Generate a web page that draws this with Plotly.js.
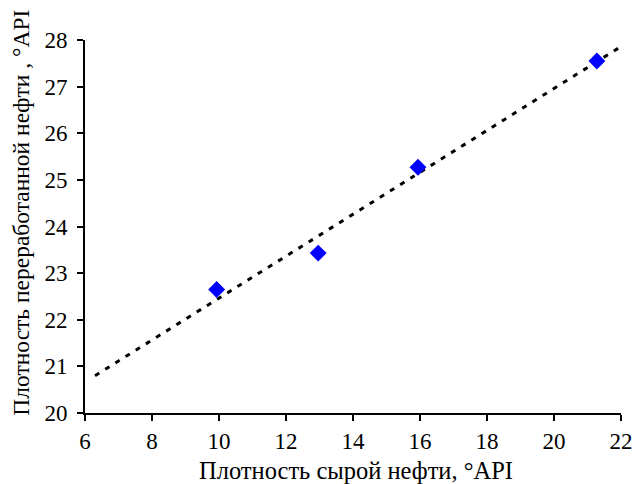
<!DOCTYPE html>
<html>
<head>
<meta charset="utf-8">
<script src="https://cdn.plot.ly/plotly-3.0.1.min.js"></script>
<style>html,body{margin:0;padding:0;background:#fff;}#chart{width:635px;height:484px;}</style>
</head>
<body>
<div id="chart"></div>
<script>
const crudeAPI = [9.93, 12.96, 15.94, 21.28];
const processedAPI = [22.65, 23.43, 25.27, 27.55];
const trendX = [6.3, 22.0];
const trendY = [20.8, 27.86];
const xTitle = 'Плотность сырой нефти, °API';
const yTitle = 'Плотность переработанной нефти , °API';

const data = [
  {x: trendX, y: trendY, mode: 'lines', type: 'scatter',
   line: {color: '#000', width: 3, dash: '5px,7px'}, hoverinfo: 'skip'},
  {x: crudeAPI, y: processedAPI, mode: 'markers', type: 'scatter',
   marker: {symbol: 'diamond', size: 13, color: '#0000FF'}}
];
const ff = 'Liberation Serif, Times New Roman, serif';
const tickFont = {family: ff, size: 23, color: '#000'};
const xTitleFont = {family: ff, size: 24.5, color: '#000'};
const yTitleFont = {family: ff, size: 23.5, color: '#000'};
const layout = {
  width: 635, height: 484,
  margin: {l: 85, r: 14, t: 40, b: 71},
  paper_bgcolor: '#fff', plot_bgcolor: '#fff',
  showlegend: false,
  font: tickFont,
  xaxis: {range: [6, 22], dtick: 2, tick0: 6, showgrid: false, zeroline: false,
    showline: true, linecolor: '#000', linewidth: 2, ticks: 'outside', ticklen: 6, tickcolor: '#000', tickwidth: 2,
    tickfont: tickFont},
  yaxis: {range: [20, 28], dtick: 1, tick0: 20, showgrid: false, zeroline: false,
    showline: true, linecolor: '#000', linewidth: 2, ticks: 'outside', ticklen: 6, tickcolor: '#000', tickwidth: 2,
    ticklabelstandoff: 5, tickfont: tickFont},
  annotations: [
    {text: xTitle, xref: 'paper', yref: 'paper', x: 0.5065, y: -0.153,
     xanchor: 'center', yanchor: 'middle', showarrow: false, font: xTitleFont},
    {text: yTitle, xref: 'paper', yref: 'paper', x: -0.121, y: 0.5375, textangle: -90,
     xanchor: 'center', yanchor: 'middle', showarrow: false, font: yTitleFont}
  ]
};
Plotly.newPlot('chart', data, layout, {displayModeBar: false, staticPlot: true});
</script>
</body>
</html>
